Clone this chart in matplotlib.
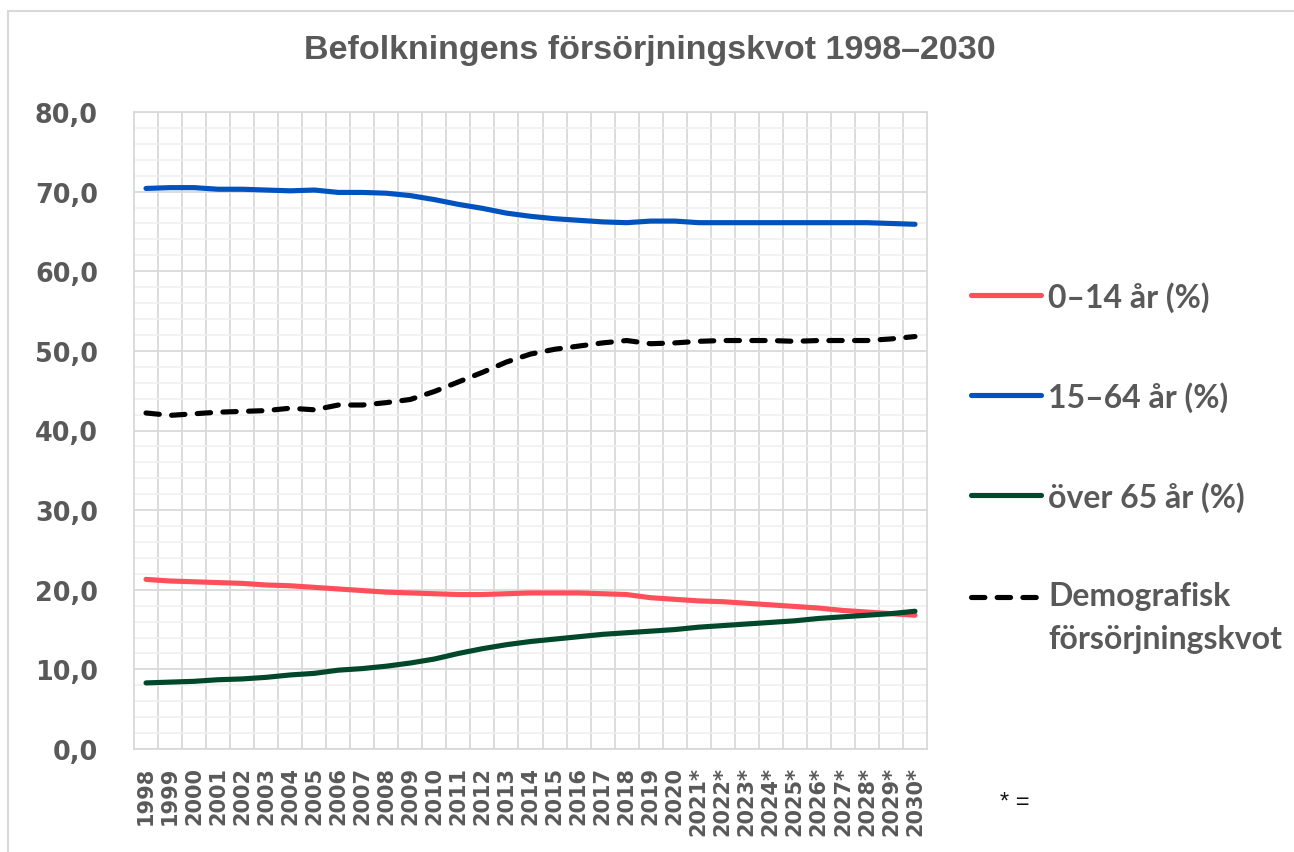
import matplotlib
matplotlib.use("Agg")
import matplotlib.pyplot as plt
from matplotlib.patches import Rectangle
from matplotlib.ticker import MultipleLocator, FixedLocator

# --- data ---
years = [str(y) for y in range(1998, 2021)] + [f"{y}*" for y in range(2021, 2031)]

age_0_14 = [21.3, 21.1, 21.0, 20.9, 20.8, 20.6, 20.5, 20.3, 20.1, 19.9, 19.7,
            19.6, 19.5, 19.4, 19.4, 19.5, 19.6, 19.6, 19.6, 19.5, 19.4, 19.0,
            18.8, 18.6, 18.5, 18.3, 18.1, 17.9, 17.7, 17.4, 17.2, 17.0, 16.8]
age_15_64 = [70.4, 70.5, 70.5, 70.3, 70.3, 70.2, 70.1, 70.2, 69.9, 69.9, 69.8,
             69.5, 69.0, 68.4, 67.9, 67.3, 66.9, 66.6, 66.4, 66.2, 66.1, 66.3,
             66.3, 66.1, 66.1, 66.1, 66.1, 66.1, 66.1, 66.1, 66.1, 66.0, 65.9]
age_65_plus = [8.3, 8.4, 8.5, 8.7, 8.8, 9.0, 9.3, 9.5, 9.9, 10.1, 10.4,
               10.8, 11.3, 12.0, 12.6, 13.1, 13.5, 13.8, 14.1, 14.4, 14.6, 14.8,
               15.0, 15.3, 15.5, 15.7, 15.9, 16.1, 16.4, 16.6, 16.8, 17.0, 17.3]
dependency = [42.2, 41.9, 42.1, 42.3, 42.4, 42.5, 42.8, 42.6, 43.2, 43.2, 43.5,
              43.9, 44.9, 46.1, 47.3, 48.6, 49.6, 50.2, 50.6, 51.0, 51.3, 50.9,
              51.0, 51.2, 51.3, 51.3, 51.3, 51.2, 51.3, 51.3, 51.3, 51.5, 51.8]

labels = ["0–14 år (%)", "15–64 år (%)", "över 65 år (%)",
          "Demografisk\nförsörjningskvot"]
colors = ["#FF4F5A", "#0052BF", "#00482B", "#000000"]

GRAY = "#595959"

fig = plt.figure(figsize=(12.94, 8.53), dpi=100)
ax = fig.add_axes([134 / 1294, 1 - 750 / 853, (927 - 134) / 1294, (750 - 113) / 853])

x = list(range(len(years)))
lw = 3.7
ax.plot(x, age_0_14, color=colors[0], lw=lw, solid_capstyle="round", label=labels[0])
ax.plot(x, age_15_64, color=colors[1], lw=lw, solid_capstyle="round", label=labels[1])
ax.plot(x, age_65_plus, color=colors[2], lw=lw, solid_capstyle="round", label=labels[2])
ax.plot(x, dependency, color=colors[3], lw=lw, linestyle=(0, (2.6, 2.4)),
        dash_capstyle="round", label=labels[3])

ax.set_xlim(-0.5, len(years) - 0.5)
ax.set_ylim(0, 80)

ax.set_xticks(x, years)
ax.set_yticks(range(0, 81, 10), [f"{v},0" for v in range(0, 81, 10)])
ax.xaxis.set_minor_locator(FixedLocator([i + 0.5 for i in range(len(years) - 1)]))
ax.yaxis.set_minor_locator(MultipleLocator(2))
ax.tick_params(axis="x", which="major", length=0, pad=12, labelsize=15,
               labelcolor=GRAY, labelrotation=90, labelfontfamily="DejaVu Sans")
ax.tick_params(axis="x", which="minor", length=0)
ax.tick_params(axis="y", which="both", length=0, pad=26, labelsize=18.4,
               labelcolor=GRAY, labelfontfamily="DejaVu Sans")
fig.canvas.draw()
for t in ax.get_xticklabels() + ax.get_yticklabels():
    t.set_fontweight("bold")
for t in ax.get_xticklabels():
    t.set_verticalalignment("top")

ax.grid(axis="y", which="minor", color="#F0F0F0", lw=1.2, zorder=0)
ax.grid(axis="y", which="major", color="#D9D9D9", lw=1.3, zorder=0)
ax.grid(axis="x", which="minor", color="#D9D9D9", lw=1.3, zorder=0)
ax.set_axisbelow(True)
for s in ax.spines.values():
    s.set_color("#D9D9D9")
    s.set_linewidth(1.3)

fig.text(0.502, 1 - 50 / 853, "Befolkningens försörjningskvot 1998–2030",
         ha="center", va="center", fontsize=24.5, fontweight="bold",
         color=GRAY, family="Liberation Sans")

leg = fig.legend(loc="upper left", bbox_to_anchor=(942 / 1294, 1 - 253 / 853),
                 frameon=False, handlelength=2.2, handletextpad=0.22,
                 labelspacing=2.17,
                 prop={"family": "Lato", "weight": "bold", "size": 23})
for t in leg.get_texts():
    t.set_color(GRAY)
    t.set_linespacing(1.6)
# align the dashed handle with the first line of its two-line label
dl = leg.get_lines()[3]
dl.set_ydata([v + 14.8 for v in dl.get_ydata()])

fig.text(1000 / 1294, 1 - 803 / 853, "* =", fontsize=17, color="#111111",
         family="Liberation Sans", va="center")

fig.add_artist(Rectangle((8 / 1294, -0.05), 1.2, (1 - 12 / 853) + 0.05,
                         transform=fig.transFigure, fill=False,
                         edgecolor="#D9D9D9", lw=1.5))

fig.savefig("out.png", dpi=100)
